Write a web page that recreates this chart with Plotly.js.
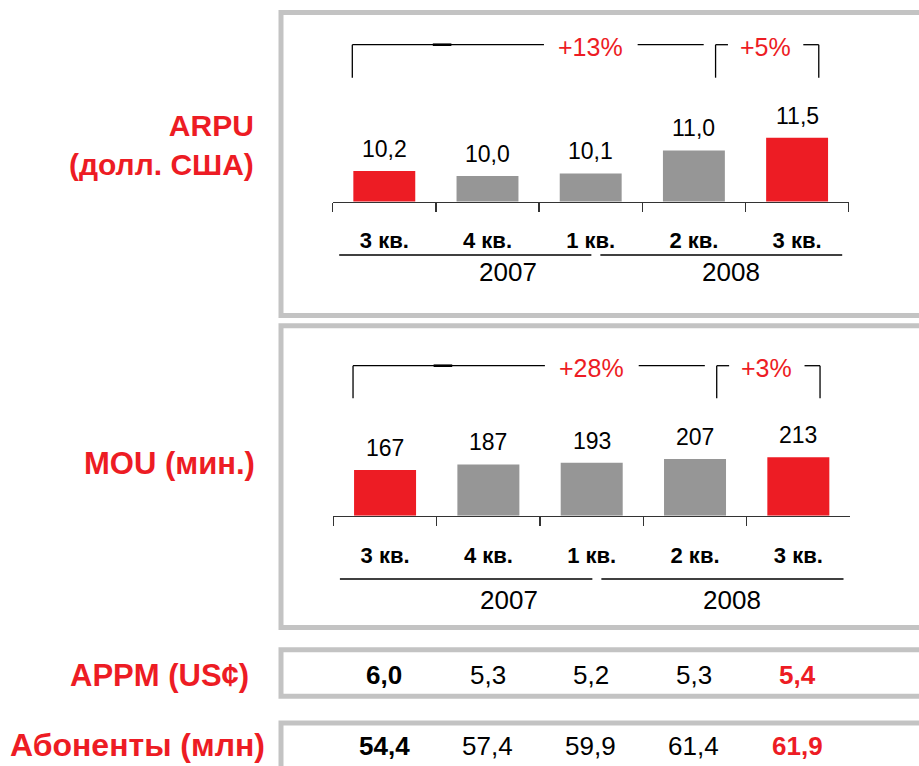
<!DOCTYPE html>
<html>
<head>
<meta charset="utf-8">
<script src="https://cdn.plot.ly/plotly-3.0.1.min.js"></script>
<style>html,body{margin:0;padding:0;background:#fff;}#chart{width:919px;height:766px;}</style>
</head>
<body>
<div id="chart"></div>
<script>
// ---------- data ----------
var quarters = ['3 кв.', '4 кв.', '1 кв.', '2 кв.', '3 кв.'];
var years = ['2007', '2007', '2008', '2008', '2008'];
var arpu = [10.2, 10.0, 10.1, 11.0, 11.5];
var mou = [167, 187, 193, 207, 213];
var appm = [6.0, 5.3, 5.2, 5.3, 5.4];
var subscribers = [54.4, 57.4, 59.9, 61.4, 61.9];
var yearLabels = ['2007', '2008'];
var rowLabels = ['ARPU<br>(долл. США)', 'MOU (мин.)', 'APPM (US¢)', 'Абоненты (млн)'];

// ---------- helpers ----------
var W = 919, H = 766;
var RED = '#ED1C24', GRAY = '#969696', BORDER = '#C3C3C3', LINE = '#333333';
var FONT = 'Liberation Sans, Arial, sans-serif';
function X(px) { return px / W; }
function Y(py) { return 1 - py / H; }
var keys = quarters.map(function (q, i) { return years[i] + ' ' + q; });
var n = keys.length;
function colorsFor(arr) { return arr.map(function (v, i) { return (i === 0 || i === n - 1) ? RED : GRAY; }); }
function fmt(v, d) { return v.toFixed(d).replace('.', ','); }
function pct(a, b) { return '+' + Math.round((b / a - 1) * 100) + '%'; }

// panel geometry (pixels)
var panels = [
  { vals: arpu, dec: 1, xl: 332.7, xr: 848.7, base: 201.5, ppu: 25.5, y0: 9.0, brTop: 44.7, brBot: 77.7, qLine: 255, yearY: 271.5, xa: 'x', ya: 'y' },
  { vals: mou, dec: 0, xl: 333.4, xr: 850.0, base: 515.7, ppu: 0.274, y0: 0, brTop: 365.7, brBot: 398.3, qLine: 579, yearY: 600, xa: 'x2', ya: 'y2' }
];
// horizontal placement of year labels (in category units)
var yearCenters = { '2007': 1.2, '2008': 3.36 };

var traces = [], shapes = [], annotations = [];
var layout = {
  width: W, height: H,
  margin: { l: 0, r: 0, t: 0, b: 0, pad: 0 },
  paper_bgcolor: '#fff', plot_bgcolor: 'rgba(0,0,0,0)',
  showlegend: false,
  font: { family: FONT, color: '#000' }
};

panels.forEach(function (p, k) {
  var domH = 100;
  var xName = k === 0 ? 'xaxis' : 'xaxis2';
  var yName = k === 0 ? 'yaxis' : 'yaxis2';
  layout[xName] = {
    domain: [X(p.xl), X(p.xr)], anchor: p.ya, type: 'category',
    tickmode: 'array', tickvals: keys, ticktext: quarters,
    tickson: 'boundaries', ticks: 'outside', ticklen: 8.5, tickwidth: 1.3, tickcolor: LINE,
    showline: true, linecolor: LINE, linewidth: 1.5,
    showgrid: false, zeroline: false, fixedrange: true,
    tickfont: { family: FONT, size: 22, color: '#000', weight: 'bold' },
    ticklabelstandoff: 19
  };
  layout[yName] = {
    domain: [Y(p.base), Y(p.base - domH)], anchor: p.xa,
    range: [p.y0, p.y0 + domH / p.ppu],
    visible: false, showgrid: false, zeroline: false, fixedrange: true
  };
  traces.push({
    type: 'bar', x: keys, y: p.vals, xaxis: p.xa, yaxis: p.ya,
    width: 0.6, marker: { color: colorsFor(p.vals), line: { width: 0 } },
    hoverinfo: 'skip'
  });
  // value labels
  p.vals.forEach(function (v, i) {
    annotations.push({
      x: keys[i], y: v, xref: p.xa, yref: p.ya, text: fmt(v, p.dec),
      showarrow: false, yanchor: 'middle', yshift: 22,
      font: { family: FONT, size: 23, color: '#000' }
    });
  });
  // bracket geometry from category positions
  var step = (p.xr - p.xl) / n;
  function cx(idx) { return p.xl + (idx + 0.5) * step; }
  var xa = cx(-0.31), gapL = cx(1.547), gapR = cx(2.455), xEnd = cx(3.095);
  var bx0 = cx(3.21), bg0 = cx(3.33), bg1 = cx(4.06), bx1 = cx(4.21);
  function seg(x0, y0, x1, y1, w) {
    shapes.push({ type: 'line', xref: 'paper', yref: 'paper', x0: X(x0), y0: Y(y0), x1: X(x1), y1: Y(y1), line: { color: '#000', width: w || 1.3 } });
  }
  seg(xa, p.brBot, xa, p.brTop);
  seg(xa, p.brTop, gapL, p.brTop);
  seg(cx(0.47), p.brTop, cx(0.65), p.brTop, 2.6);
  seg(gapR, p.brTop, xEnd, p.brTop);
  seg(bx0, p.brBot, bx0, p.brTop);
  seg(bx0, p.brTop, bg0, p.brTop);
  seg(bg1, p.brTop, bx1, p.brTop);
  seg(bx1, p.brTop, bx1, p.brBot);
  annotations.push({
    x: X((gapL + gapR) / 2), y: Y(p.brTop + 2), xref: 'paper', yref: 'paper',
    text: pct(p.vals[0], p.vals[n - 1]), showarrow: false, xanchor: 'center', yanchor: 'middle',
    font: { family: FONT, size: 25, color: RED }
  });
  annotations.push({
    x: X((bg0 + bg1) / 2), y: Y(p.brTop + 2), xref: 'paper', yref: 'paper',
    text: pct(p.vals[n - 2], p.vals[n - 1]), showarrow: false, xanchor: 'center', yanchor: 'middle',
    font: { family: FONT, size: 25, color: RED }
  });
  // year separator lines and year labels
  var split = cx(2.05);
  seg(p.xl + 6.5, p.qLine, split - 4.5, p.qLine, 1.6);
  seg(split + 4.5, p.qLine, p.xr - 6.5, p.qLine, 1.6);
  yearLabels.forEach(function (yr) {
    annotations.push({
      x: X(cx(yearCenters[yr])), y: Y(p.yearY), xref: 'paper', yref: 'paper', text: yr,
      showarrow: false, xanchor: 'center', yanchor: 'middle',
      font: { family: FONT, size: 26, color: '#000' }
    });
  });
});

// boxes
function box(top, bottom) {
  shapes.push({ type: 'rect', xref: 'paper', yref: 'paper', x0: X(281), x1: 1.05, y0: Y(bottom), y1: Y(top), line: { color: BORDER, width: 5 }, fillcolor: 'rgba(0,0,0,0)', layer: 'below' });
}
box(12.5, 315.5);
box(325.8, 627.5);
box(649.7, 696.3);
box(723, 790);

// table rows
[[appm, 675], [subscribers, 746]].forEach(function (row) {
  row[0].forEach(function (v, i) {
    var first = i === 0, last = i === n - 1;
    annotations.push({
      x: keys[i], y: Y(row[1]), xref: 'x', yref: 'paper', text: fmt(v, 1),
      showarrow: false, xanchor: 'center', yanchor: 'middle',
      font: { family: FONT, size: 26, color: last ? RED : '#000', weight: (first || last) ? 'bold' : 'normal' }
    });
  });
});

// left labels
var labelPos = [[256, 145], [257, 463], [251, 675], [267, 745]];
var labelSize = [30, 31, 31, 32];
rowLabels.forEach(function (t, i) {
  annotations.push({
    x: X(labelPos[i][0]), y: Y(labelPos[i][1]), xref: 'paper', yref: 'paper', text: t,
    showarrow: false, xanchor: 'right', yanchor: 'middle', align: 'right',
    font: { family: FONT, size: labelSize[i], color: RED, weight: 'bold' }
  });
});

layout.shapes = shapes;
layout.annotations = annotations;
Plotly.newPlot('chart', traces, layout, { staticPlot: true, displayModeBar: false });
</script>
</body>
</html>
